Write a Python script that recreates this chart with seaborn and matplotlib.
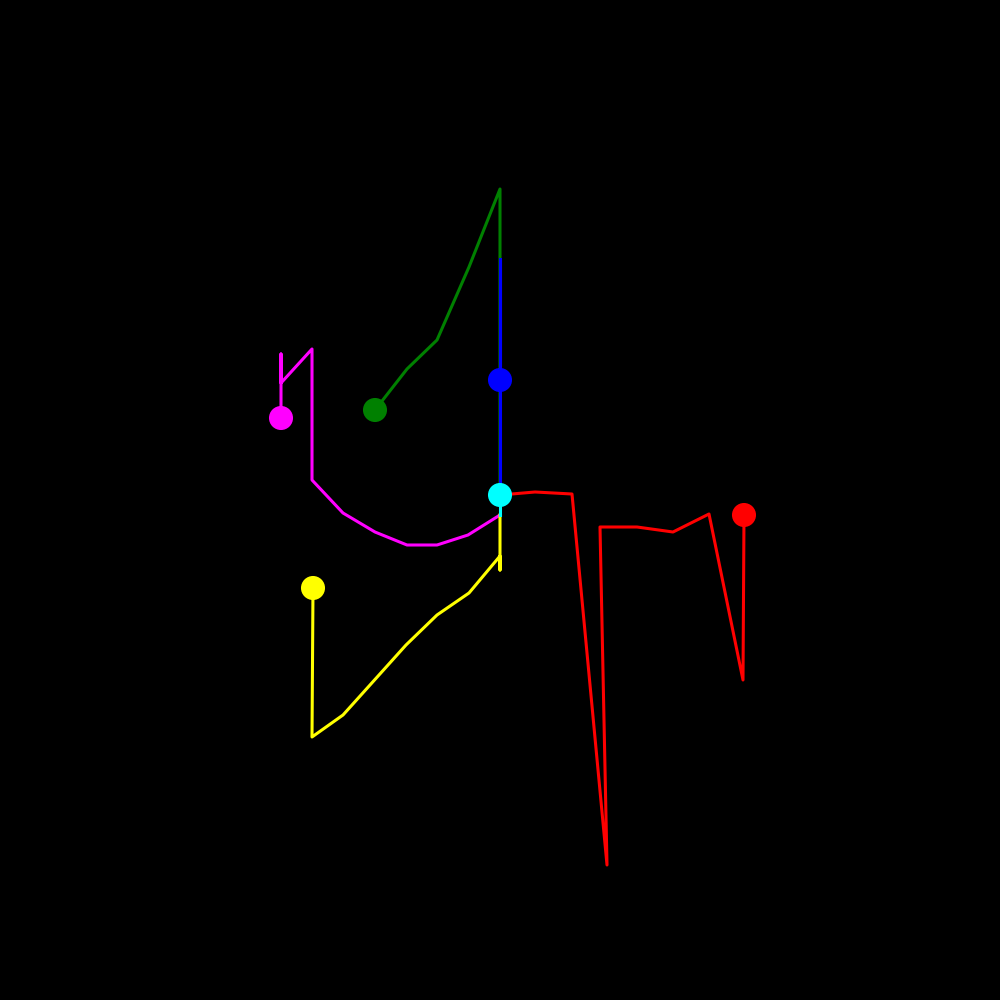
import numpy as np
import pandas as pd
import matplotlib
matplotlib.use('Agg')
import matplotlib.pyplot as plt
import seaborn as sns

##paths, x to the right, y downward (0..1000)
green_x = [500, 500, 500, 469, 437, 407, 375]
green_y = [495, 330, 189, 267, 340, 369, 410]

blue_x = [500, 500, 500]
blue_y = [495, 259, 380]

magenta_x = [500, 468, 437, 407, 375, 343, 312, 312, 281, 281, 281]
magenta_y = [515, 535, 545, 545, 532, 513, 480, 349, 383, 354, 418]

yellow_x = [500, 500, 500, 469, 437, 406, 343, 312, 313]
yellow_y = [515, 570, 556, 593, 615, 645, 715, 737, 588]

red_x = [500, 535, 572, 607, 600, 637, 673, 709, 743, 744]
red_y = [495, 492, 494, 865, 527, 527, 532, 514, 680, 515]

cyan_x = [500, 500]
cyan_y = [515, 495]

series = [
    ('green', green_x, green_y, '#008000'),
    ('blue', blue_x, blue_y, '#0000ff'),
    ('red', red_x, red_y, '#ff0000'),
    ('magenta', magenta_x, magenta_y, '#ff00ff'),
    ('yellow', yellow_x, yellow_y, '#ffff00'),
    ('cyan', cyan_x, cyan_y, '#00ffff'),
]

fig = plt.figure(figsize=(10, 10), dpi=100, facecolor='black')
ax = fig.add_axes([0, 0, 1, 1])
ax.set_facecolor('black')

for name, xs, ys, col in series:
    df = pd.DataFrame({'x': xs, 'y': ys})
    sns.lineplot(data=df, x='x', y='y', sort=False, estimator=None,
                 color=col, linewidth=2.2, ax=ax)

##end markers on top
for name, xs, ys, col in series:
    sns.scatterplot(x=[xs[-1]], y=[ys[-1]], color=col, s=300,
                    edgecolor='none', ax=ax, zorder=5)

ax.set(xlim=(0, 1000), ylim=(1000, 0), xticks=(), yticks=(), xlabel='', ylabel='')
sns.despine(ax=ax, left=True, bottom=True)
fig.savefig('out.png', dpi=100, facecolor='black')
